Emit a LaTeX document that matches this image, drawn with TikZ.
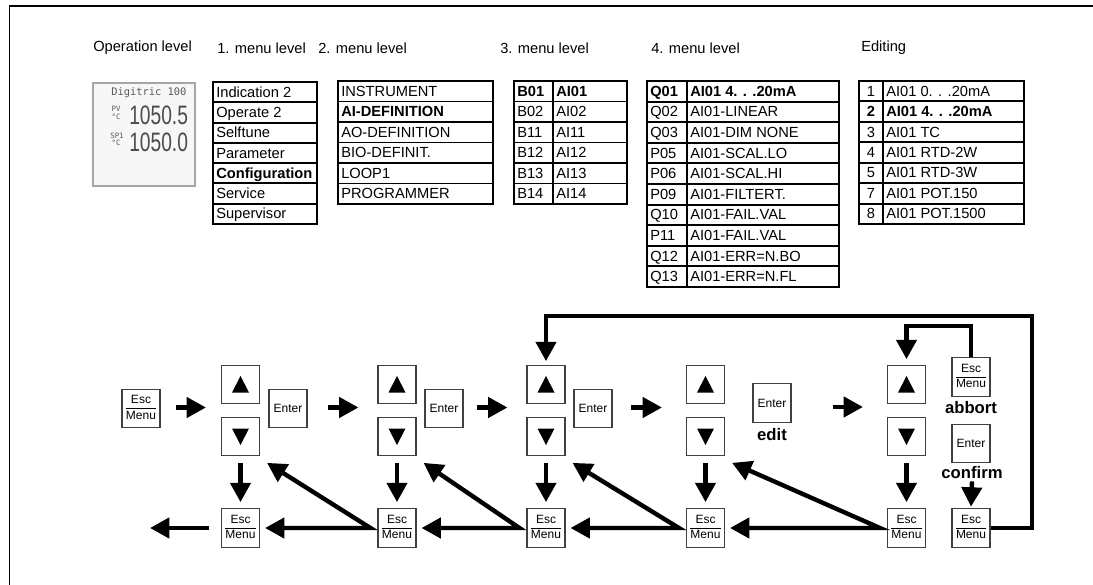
\documentclass[tikz,border=0pt]{standalone}
\usepackage{fontspec}
\setmainfont{Liberation Sans}
\newfontfamily\dispmono{DejaVu Sans Mono}
\usepackage{graphicx}
\usetikzlibrary{arrows.meta}
\newcommand{\escmenu}{{\def\arraystretch{1.1}\begin{tabular}{@{}c@{}}Esc\\\hline Menu\end{tabular}}}
\begin{document}
\begin{tikzpicture}[x=0.75pt,y=-0.75pt,
  tline/.style={line width=1.4pt},
  cell/.style={anchor=west,inner sep=0pt,text height=9pt,text depth=1.5pt,font=\fontsize{11}{13}\selectfont},
  hdr/.style={anchor=west,inner sep=0pt,font=\fontsize{11}{13}\selectfont},
  key/.style={draw=black!75,line width=0.8pt,fill=white,minimum width=28.5pt,minimum height=29pt,inner sep=0pt,font=\fontsize{9}{10}\selectfont},
  lbl/.style={inner sep=0pt,font=\fontsize{12.5}{14}\selectfont\bfseries},
  flow/.style={line width=3.3pt,-{Triangle[length=14.5pt,width=15pt]}},
  twoway/.style={line width=3.3pt,{Triangle[length=14.5pt,width=15pt]}-{Triangle[length=14.5pt,width=15pt]}},
  dsmall/.style={inner sep=0pt,text=black!65,font=\dispmono\fontsize{5.5}{6}\selectfont},
]
\useasboundingbox (0,0) rectangle (1093,585);
% frame
\draw[line width=1.3pt] (9.5,585) -- (9.5,6) -- (1093,6);

% headers
\node[hdr] (h0) at (93,48) {Operation level};
\node[hdr] (h1) at (217,48) {1. menu level};
\node[hdr] (h2) at (318,48) {2. menu level};
\node[hdr] (h3) at (500,48) {3. menu level};
\node[hdr] (h4) at (651,48) {4. menu level};
\node[hdr] (h5) at (861,48) {Editing};

% display
\node[draw=black!35,line width=1.5pt,fill=black!3,minimum width=76.5pt,minimum height=77pt,anchor=north west,inner sep=0pt] (disp) at (92,82) {};
\node[anchor=west,inner sep=0pt,text=black!65,font=\dispmono\fontsize{7.8}{8}\selectfont] (dtitle) at (111,93) {Digitric 100};
\node[dsmall] (pv) at (116,109) {PV};
\node[dsmall] (pvu) at (116,117) {°C};
\node[dsmall] (sp) at (117,136) {SP1};
\node[dsmall] (spu) at (116,143) {°C};
\node[anchor=west,inner sep=0pt,text=black!70] (pvval) at (129,115.5) {\fontsize{20}{20}\selectfont\scalebox{0.72}[1]{1050.5}};
\node[anchor=west,inner sep=0pt,text=black!70] (spval) at (129,142.5) {\fontsize{20}{20}\selectfont\scalebox{0.72}[1]{1050.0}};

% table 1
\draw[tline] (213,82) rectangle (317,224);
\foreach \i in {1,...,6} \draw[tline] (213,{82+\i*20.286}) -- (317,{82+\i*20.286});
\foreach[count=\i] \t in {Indication 2,Operate 2,Selftune,Parameter,\textbf{Configuration},Service,Supervisor}
  \node[cell] (ta\i) at (216,{82+(\i-0.5)*20.286}) {\t};

% table 2
\draw[tline] (338,81) rectangle (493,204);
\foreach \i in {1,...,5} \draw[tline] (338,{81+\i*20.5}) -- (493,{81+\i*20.5});
\foreach[count=\i] \t in {INSTRUMENT,\textbf{AI-DEFINITION},AO-DEFINITION,BIO-DEFINIT.,LOOP1,PROGRAMMER}
  \node[cell] (tb\i) at (341,{81+(\i-0.5)*20.5}) {\t};

% table 3
\draw[tline] (514,81) rectangle (627,204);
\draw[tline] (553,81) -- (553,204);
\foreach \i in {1,...,5} \draw[tline] (514,{81+\i*20.5}) -- (627,{81+\i*20.5});
\foreach[count=\i] \a/\b in {\textbf{B01}/\textbf{AI01},B02/AI02,B11/AI11,B12/AI12,B13/AI13,B14/AI14}{
  \node[cell] (tca\i) at (517,{81+(\i-0.5)*20.5}) {\a};
  \node[cell] (tcb\i) at (556,{81+(\i-0.5)*20.5}) {\b};
}

% table 4
\draw[tline] (647,81) rectangle (839,287);
\draw[tline] (687,81) -- (687,287);
\foreach \i in {1,...,9} \draw[tline] (647,{81+\i*20.6}) -- (839,{81+\i*20.6});
\foreach[count=\i] \a/\b in {\textbf{Q01}/\textbf{AI01 4. . .20mA},Q02/AI01-LINEAR,Q03/AI01-DIM NONE,P05/AI01-SCAL.LO,P06/AI01-SCAL.HI,P09/AI01-FILTERT.,Q10/AI01-FAIL.VAL,P11/AI01-FAIL.VAL,Q12/AI01-ERR=N.BO,Q13/AI01-ERR=N.FL}{
  \node[cell] (tda\i) at (650,{81+(\i-0.5)*20.6}) {\a};
  \node[cell] (tdb\i) at (690,{81+(\i-0.5)*20.6}) {\b};
}

% table 5
\draw[tline] (859,81) rectangle (1024,224);
\draw[tline] (883,81) -- (883,224);
\foreach \i in {1,...,6} \draw[tline] (859,{81+\i*20.43}) -- (1024,{81+\i*20.43});
\foreach[count=\i] \a/\b in {1/AI01 0. . .20mA,\textbf{2}/\textbf{AI01 4. . .20mA},3/AI01 TC,4/AI01 RTD-2W,5/AI01 RTD-3W,7/AI01 POT.150,8/AI01 POT.1500}{
  \node[cell,anchor=center] (tea\i) at (871,{81+(\i-0.5)*20.43}) {\a};
  \node[cell] (teb\i) at (886,{81+(\i-0.5)*20.43}) {\b};
}

% keys
\node[key] (esc0) at (141,408.5) {\escmenu};
\foreach \n/\x in {1/240.5,2/397,3/546,4/705.5,5/906.5}{
  \node[key] (up\n) at (\x,384.5) {};
  \node[key] (dn\n) at (\x,436.5) {};
  \node[key] (eb\n) at (\x,528) {\escmenu};
  \fill ([shift={(0,-8.5)}]up\n.center) -- ([shift={(8.5,8)}]up\n.center) -- ([shift={(-8.5,8)}]up\n.center) -- cycle;
  \fill ([shift={(0,8.5)}]dn\n.center) -- ([shift={(8.5,-8)}]dn\n.center) -- ([shift={(-8.5,-8)}]dn\n.center) -- cycle;
}
\node[key] (ent1) at (288,408.5) {Enter};
\node[key] (ent2) at (444,408.5) {Enter};
\node[key] (ent3) at (593,408.5) {Enter};
\node[key] (ent4) at (772,403) {Enter};
\node[lbl] (edit) at (772,435) {edit};
\node[key] (escA) at (971,377) {\escmenu};
\node[lbl] (abort) at (971,408) {abbort};
\node[key] (entC) at (971,443.5) {Enter};
\node[lbl] (conf) at (972,473) {confirm};
\node[key] (eb6) at (971,528) {\escmenu};

% horizontal forward arrows
\coordinate (k0) at (esc0.east -| up1.west);
\coordinate (k1) at (ent1.east -| up2.west);
\coordinate (k2) at (ent2.east -| up3.west);
\coordinate (k3) at (ent3.east -| up4.west);
\draw[flow] ([shift={(15,-1)}]esc0.east) -- ([shift={(-15,-1)}]k0);
\draw[flow] ([shift={(20,-1)}]ent1.east) -- ([shift={(-19,-1)}]k1);
\draw[flow] ([shift={(13,-1)}]ent2.east) -- ([shift={(-19,-1)}]k2);
\draw[flow] ([shift={(18,-1)}]ent3.east) -- ([shift={(-24,-1)}]k3);
\coordinate (a4s) at ([shift={(41,4)}]ent4.east);
\coordinate (k4) at (a4s -| up5.west);
\draw[flow] (a4s) -- ([shift={(-24,0)}]k4);

% down arrows
\foreach \n in {1,...,5}
  \draw[flow] ([shift={(0,7)}]dn\n.south) -- ([shift={(0,-6)}]eb\n.north);
\draw[flow] ([shift={(0,2)}]conf.south) -- ([shift={(0,-1.5)}]eb6.north);

% bottom return arrows
\coordinate (exitL) at (150,528);
\draw[flow] ([shift={(-12,0)}]eb1.west) -- (exitL);
\foreach \a/\b in {1/2,2/3,3/4,4/5}
  \draw[twoway] ([shift={(7,6.5)}]dn\a.south east) -- ([shift={(-7,0)}]eb\b.west) -- ([shift={(5,0)}]eb\a.east);

% loops
\coordinate (loopR) at (1032,316);
\draw[flow] (eb6.east) -| (loopR) -| ([shift={(0,-3.5)}]up3.north);
\coordinate (abTop) at (940,326);
\draw[flow] (escA.north) |- (abTop) -| ([shift={(0,-5.5)}]up5.north);
\end{tikzpicture}
\end{document}
